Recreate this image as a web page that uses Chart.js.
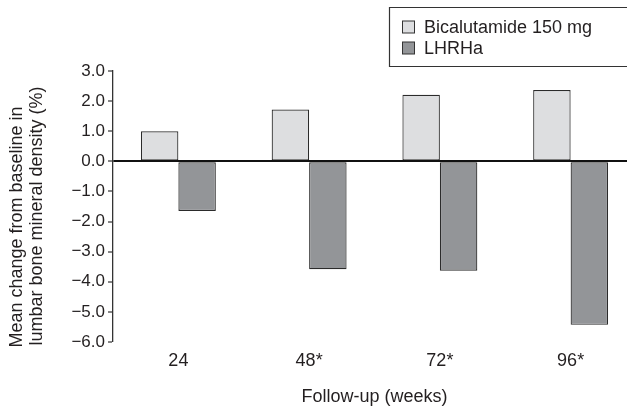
<!DOCTYPE html>
<html>
<head>
<meta charset="utf-8">
<script src="https://cdn.jsdelivr.net/npm/chart.js@4/dist/chart.umd.min.js"></script>
<style>
  html, body { margin: 0; padding: 0; background: #fff; overflow: hidden; }
  #wrap { width: 627px; height: 406px; overflow: hidden; position: relative; }
  canvas { display: block; }
</style>
</head>
<body>
<div id="wrap"><canvas id="chart" width="636" height="406"></canvas></div>
<script>
// Data
const weeks = ['24', '48*', '72*', '96*'];
const bicalutamide = [1.0, 1.72, 2.21, 2.37];
const lhrha = [-1.65, -3.58, -3.63, -5.43];
const yTitle = ['Mean change from baseline in', 'lumbar bone mineral density (%)'];
const xTitle = 'Follow-up (weeks)';

const textColor = '#231f20';
const fontFamily = '"Liberation Sans", Arial, Helvetica, sans-serif';

// Boxed legend in the top right corner, open on the right (runs off the edge)
const boxLegend = {
    id: 'boxLegend',
    afterDraw(chart) {
        const ctx = chart.ctx;
        const right = chart.width + 20;
        ctx.save();
        ctx.strokeStyle = '#333';
        ctx.lineWidth = 1.2;
        ctx.beginPath();
        ctx.moveTo(right, 7.5);
        ctx.lineTo(389.5, 7.5);
        ctx.lineTo(389.5, 66.5);
        ctx.lineTo(right, 66.5);
        ctx.stroke();
        ctx.font = '18px ' + fontFamily;
        ctx.textBaseline = 'middle';
        ctx.textAlign = 'left';
        chart.data.datasets.forEach((ds, i) => {
            const cy = 27 + i * 21;
            ctx.fillStyle = ds.backgroundColor;
            ctx.fillRect(402.5, cy - 6, 12, 12);
            ctx.strokeStyle = '#333';
            ctx.lineWidth = 1;
            ctx.strokeRect(402.5, cy - 6, 12, 12);
            ctx.fillStyle = textColor;
            ctx.fillText(ds.label, 424, cy + 1);
        });
        ctx.restore();
    }
};

// Two-line rotated y axis title
const yAxisTitle = {
    id: 'yAxisTitle',
    afterDraw(chart) {
        const ctx = chart.ctx;
        const centres = [[17.5, 227], [37.5, 216]];
        ctx.save();
        ctx.font = '18px ' + fontFamily;
        ctx.fillStyle = textColor;
        ctx.textAlign = 'center';
        ctx.textBaseline = 'middle';
        yTitle.forEach((line, i) => {
            ctx.save();
            ctx.translate(centres[i][0], centres[i][1]);
            ctx.rotate(-Math.PI / 2);
            ctx.fillText(line, 0, 0);
            ctx.restore();
        });
        ctx.restore();
    }
};

const ctx = document.getElementById('chart').getContext('2d');
const chart = new Chart(ctx, {
    type: 'bar',
    data: {
        labels: weeks,
        datasets: [{
            label: 'Bicalutamide 150 mg',
            data: bicalutamide,
            backgroundColor: '#dddee0',
            borderColor: '#2b2b2b',
            borderWidth: 1.2,
            borderSkipped: false
        }, {
            label: 'LHRHa',
            data: lhrha,
            backgroundColor: '#939598',
            borderColor: '#2b2b2b',
            borderWidth: 1.2,
            borderSkipped: false
        }]
    },
    options: {
        responsive: false,
        animation: false,
        layout: { padding: { top: 71, left: 0, right: 0, bottom: 0 } },
        datasets: {
            bar: { barPercentage: 1.0, categoryPercentage: 0.573 }
        },
        plugins: {
            legend: { display: false },
            tooltip: { enabled: false }
        },
        scales: {
            x: {
                afterFit(scale) { scale.height = 64; },
                grid: { display: false, drawTicks: false },
                border: { display: false },
                ticks: {
                    color: textColor,
                    padding: 8,
                    font: { family: fontFamily, size: 18 }
                },
                title: {
                    display: true,
                    text: xTitle,
                    color: textColor,
                    padding: { top: 0, bottom: 0 },
                    font: { family: fontFamily, size: 18, lineHeight: 1 }
                }
            },
            y: {
                min: -6,
                max: 3,
                afterFit(scale) { scale.width = 113; },
                border: { display: true, color: '#333', width: 1.3 },
                grid: {
                    drawOnChartArea: true,
                    drawTicks: true,
                    tickLength: 5,
                    tickColor: '#333',
                    tickWidth: 1.2,
                    color: c => (c.tick && c.tick.value === 0) ? '#111' : 'rgba(0,0,0,0)',
                    lineWidth: c => (c.tick && c.tick.value === 0) ? 2 : 0
                },
                ticks: {
                    stepSize: 1,
                    color: textColor,
                    padding: 3,
                    font: { family: fontFamily, size: 17 },
                    callback: v => (v < 0 ? '\u2212' : '') + Math.abs(v).toFixed(1)
                }
            }
        }
    },
    plugins: [boxLegend, yAxisTitle]
});
</script>
</body>
</html>
